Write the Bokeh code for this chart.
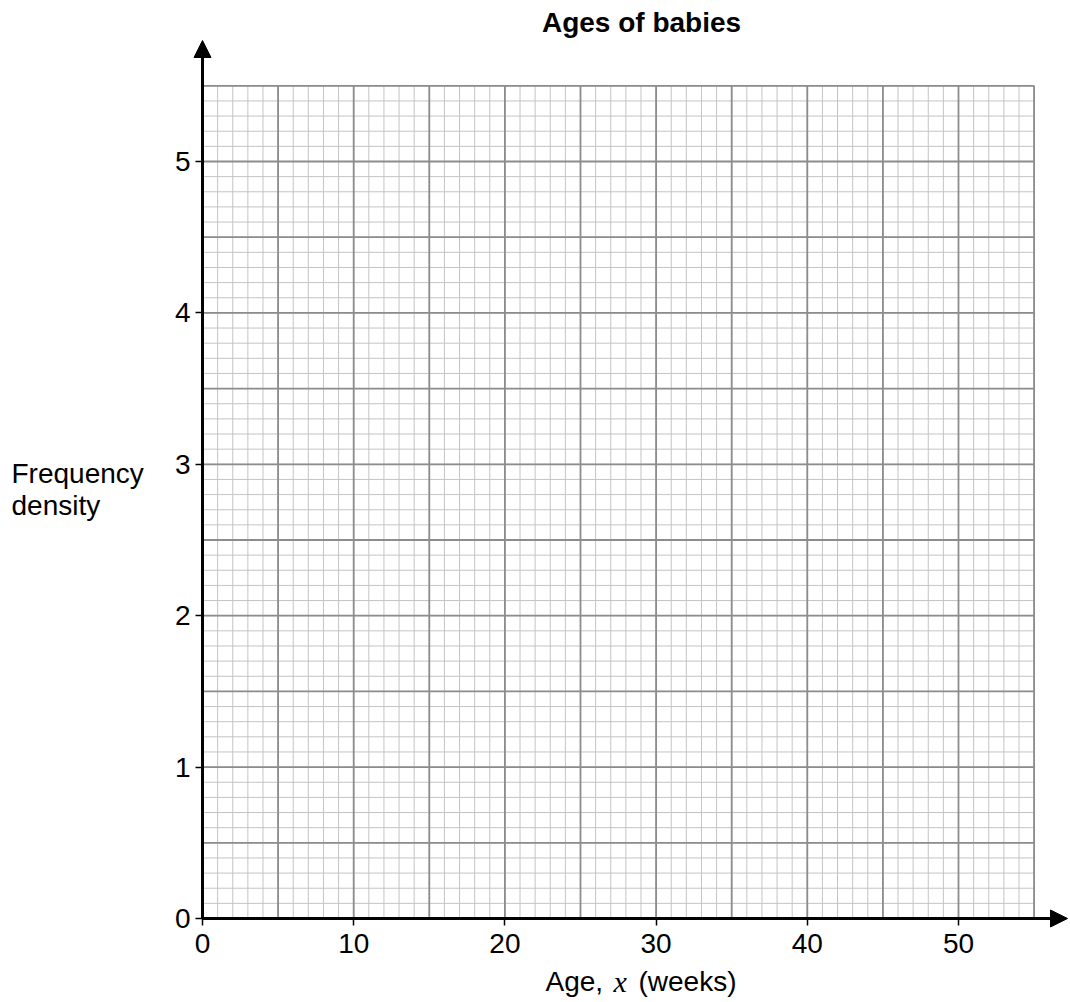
from bokeh.plotting import figure
from bokeh.models import Range1d, FixedTicker, Label, Arrow, NormalHead
from bokeh.embed import file_html
from bokeh.resources import INLINE

# ---- chart content ----
title_text = "Ages of babies"
y_label_lines = ["Frequency", "density"]
x_label_parts = ["Age,", "x", "(weeks)"]
x_ticks = [0, 10, 20, 30, 40, 50]
y_ticks = [0, 1, 2, 3, 4, 5]
x_max = 55
y_max = 5.5
x_major_lines = [0, 5, 10, 15, 20, 25, 30, 35, 40, 45, 50, 55]
x_minor_lines = list(range(0, 56))
y_major_lines = [0, 0.5, 1, 1.5, 2, 2.5, 3, 3.5, 4, 4.5, 5, 5.5]
y_minor_lines = [i / 10 for i in range(0, 56)]

# ---- layout ----
W, H = 1070, 1002
PX_X = 15.12      # pixels per week
PX_Y = 151.4      # pixels per unit of frequency density
X0_PX = 202       # canvas px of x = 0
Y0_PX = 918       # canvas px of y = 0
TXT_SHIFT = 11    # labels render this much lower than the given baseline


def dx(px):
    return (px - X0_PX) / PX_X


def dy(py):
    return (Y0_PX - py) / PX_Y


def ty(py):
    return dy(py - TXT_SHIFT)


x_arrow_tip = dx(1067)
y_arrow_tip = dy(40)

FONT = "Liberation Sans"
FS = "28px"

p = figure(width=W, height=H, x_range=Range1d(dx(0), dx(W)), y_range=Range1d(dy(H), dy(0)),
           output_backend="svg", toolbar_location=None, min_border=0,
           min_border_left=0, min_border_right=0, min_border_top=0, min_border_bottom=0)
p.xgrid.visible = False
p.ygrid.visible = False
p.outline_line_color = None
p.background_fill_color = "white"
p.border_fill_color = "white"

# grid (minor then major)
p.segment(x0=x_minor_lines, y0=[0] * len(x_minor_lines), x1=x_minor_lines,
          y1=[y_max] * len(x_minor_lines), line_color="#c4c4c4", line_width=1)
p.segment(x0=[0] * len(y_minor_lines), y0=y_minor_lines, x1=[x_max] * len(y_minor_lines),
          y1=y_minor_lines, line_color="#c4c4c4", line_width=1)
p.segment(x0=x_major_lines, y0=[0] * len(x_major_lines), x1=x_major_lines,
          y1=[y_max] * len(x_major_lines), line_color="#8c8c8c", line_width=1.8)
p.segment(x0=[0] * len(y_major_lines), y0=y_major_lines, x1=[x_max] * len(y_major_lines),
          y1=y_major_lines, line_color="#8c8c8c", line_width=1.8)

# axes, drawn at x = 0 and y = 0
p.xaxis.fixed_location = 0
p.yaxis.fixed_location = 0
p.xaxis.bounds = (0, x_max + 1)
p.yaxis.bounds = (0, y_max + 0.1)
for ax, ticks, standoff in ((p.xaxis, x_ticks, 8), (p.yaxis, y_ticks, 5)):
    ax.ticker = FixedTicker(ticks=ticks, minor_ticks=[])
    ax.axis_line_width = 3
    ax.axis_line_color = "black"
    ax.major_tick_line_color = "black"
    ax.major_tick_line_width = 1.5
    ax.major_tick_out = 7
    ax.major_tick_in = 0
    ax.minor_tick_out = 0
    ax.minor_tick_in = 0
    ax.major_label_text_font = FONT
    ax.major_label_text_font_size = FS
    ax.major_label_text_color = "black"
    ax.major_label_standoff = standoff

# arrow heads
p.add_layout(Arrow(end=NormalHead(size=17, fill_color="black", line_color="black"),
                   x_start=0, y_start=y_max, x_end=0, y_end=y_arrow_tip,
                   line_width=3, line_color="black"))
p.add_layout(Arrow(end=NormalHead(size=17, fill_color="black", line_color="black"),
                   x_start=x_max, y_start=0, x_end=x_arrow_tip, y_end=0,
                   line_width=3, line_color="black"))

# title
p.add_layout(Label(x=dx(641), y=ty(33), text=title_text, text_align="center",
                   text_baseline="alphabetic", text_font=FONT, text_font_size=FS,
                   text_font_style="bold", text_color="black"))

# y label
p.add_layout(Label(x=dx(11), y=ty(484), text=y_label_lines[0], text_align="left",
                   text_baseline="alphabetic", text_font=FONT, text_font_size=FS,
                   text_color="black"))
p.add_layout(Label(x=dx(11), y=ty(516), text=y_label_lines[1], text_align="left",
                   text_baseline="alphabetic", text_font=FONT, text_font_size=FS,
                   text_color="black"))

# x label
p.add_layout(Label(x=dx(545), y=ty(992), text=x_label_parts[0], text_align="left",
                   text_baseline="alphabetic", text_font=FONT, text_font_size=FS,
                   text_color="black"))
p.add_layout(Label(x=dx(613), y=ty(992), text=x_label_parts[1], text_align="left",
                   text_baseline="alphabetic", text_font="Liberation Serif",
                   text_font_style="italic", text_font_size="30px", text_color="black"))
p.add_layout(Label(x=dx(638), y=ty(992), text=x_label_parts[2], text_align="left",
                   text_baseline="alphabetic", text_font=FONT, text_font_size=FS,
                   text_color="black"))

open("out.html", "w").write(file_html(p, INLINE))
